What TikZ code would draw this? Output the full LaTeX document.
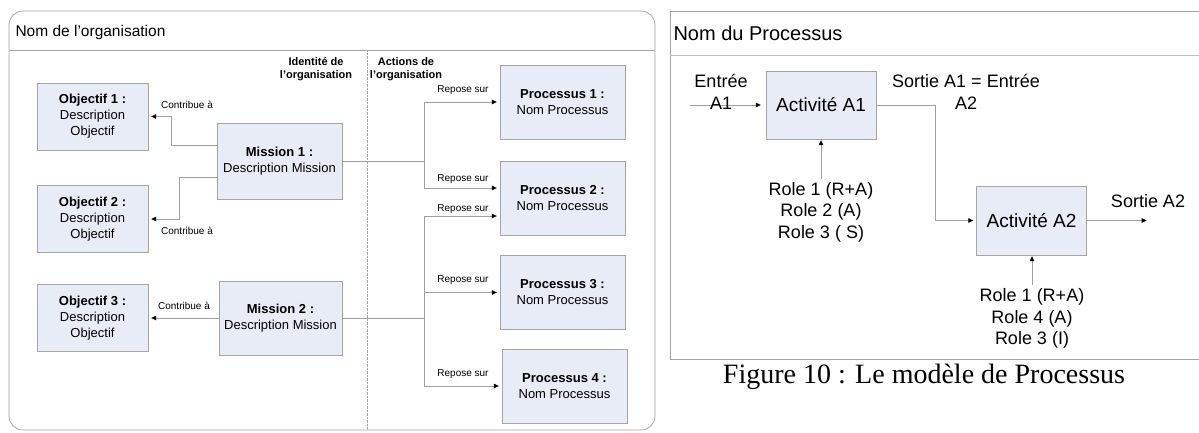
\documentclass[tikz,border=0pt]{standalone}
\usepackage{fontspec}
\setmainfont{Liberation Sans}
\newfontfamily\serifcap{Liberation Serif}
\usetikzlibrary{arrows.meta,positioning}
\definecolor{boxfill}{RGB}{232,236,246}
\definecolor{boxline}{RGB}{165,165,165}
\definecolor{wire}{RGB}{160,160,160}
\tikzset{
  bloc/.style={draw=boxline,fill=boxfill,align=center,minimum width=111pt,minimum height=67pt,inner sep=2pt,font=\fontsize{13}{16}\selectfont},
  activite/.style={draw=boxline,fill=boxfill,minimum width=110pt,minimum height=68pt,font=\fontsize{19}{22}\selectfont},
  lien/.style={draw=wire,line width=0.7pt,-{Triangle[length=5pt,width=4.5pt,color=black]},shorten >=3pt},
  note/.style={font=\fontsize{10}{12}\selectfont},
  texte/.style={align=center,font=\fontsize{18}{21.5}\selectfont},
}

\begin{document}
\begin{tikzpicture}[x=1pt,y=-1pt]
\useasboundingbox (0,0) rectangle (1199,432);
% organisation
\draw[boxline,line width=0.8pt,rounded corners=14pt] (9,11) rectangle (655,430);
\draw[boxline] (9,50) -- (655,50);
\node[anchor=west,font=\fontsize{15.5}{18}\selectfont] (titre_org) at (12,32) {Nom de l’organisation};
\draw[boxline,densely dotted] (367,50) -- (367,430);
\node[align=center,font=\bfseries\fontsize{11}{13}\selectfont] (identite) at (316,69) {Identité de\\l’organisation};
\node[align=center,font=\bfseries\fontsize{11}{13}\selectfont] (actions) at (406,69) {Actions de\\l’organisation};

\node[bloc] (o_1) at (92.5,116.5) {\textbf{Objectif 1 :}\\Description\\Objectif};
\node[bloc] (o_2) at (92.5,219) {\textbf{Objectif 2 :}\\Description\\Objectif};
\node[bloc] (o_3) at (92.5,318) {\textbf{Objectif 3 :}\\Description\\Objectif};
\node[bloc,minimum width=125pt,minimum height=76pt] (m_1) at (279.5,161) {\textbf{Mission 1 :}\\Description Mission};
\node[bloc,minimum width=123pt,minimum height=74pt] (m_2) at (280.5,318) {\textbf{Mission 2 :}\\Description Mission};
\node[bloc,minimum width=125pt,minimum height=74pt] (p_1) at (562.5,102) {\textbf{Processus 1 :}\\Nom Processus};
\node[bloc,minimum width=125pt,minimum height=74pt] (p_2) at (562.5,198) {\textbf{Processus 2 :}\\Nom Processus};
\node[bloc,minimum width=125pt,minimum height=74pt] (p_3) at (562.5,292.5) {\textbf{Processus 3 :}\\Nom Processus};
\node[bloc,minimum width=125pt,minimum height=74pt] (p_4) at (564.5,386) {\textbf{Processus 4 :}\\Nom Processus};

\draw[lien] ([yshift=16pt]m_1.west) -- ++(-45,0) |- (o_1);
\draw[lien] ([yshift=-16pt]m_1.west) -- ++(-37,0) |- (o_2);
\draw[lien] (m_2.west) -- (o_3.east);
\node[note] (c_1) at (187,105) {Contribue à};
\node[note] (c_2) at (187,231) {Contribue à};
\node[note] (c_3) at (184,306) {Contribue à};

\coordinate (f_1) at ([xshift=82pt]m_1.east);
\coordinate (f_2) at ([xshift=82pt]m_2.east);
\draw[wire,line width=0.7pt] (m_1.east) -- (f_1);
\draw[lien] (f_1) |- (p_1);
\draw[lien] (f_1) |- ([yshift=10pt]p_2.west);
\draw[wire,line width=0.7pt] (m_2.east) -- (f_2);
\draw[lien] (f_2) |- ([yshift=-18pt]p_2.west);
\draw[lien] (f_2) |- (p_3);
\draw[lien] (f_2) |- (p_4);
\node[note] (r_1) at (463,90) {Repose sur};
\node[note] (r_2) at (463,179) {Repose sur};
\node[note] (r_3) at (463,209) {Repose sur};
\node[note] (r_4) at (463,280) {Repose sur};
\node[note] (r_5) at (463,374) {Repose sur};

% processus
\draw[boxline,line width=0.8pt] (1199,11) -- (670,11) -- (670,359) -- (1199,359);
\draw[boxline!70] (670,55) -- (1199,55);
\node[anchor=west,font=\fontsize{20}{24}\selectfont] (titre_proc) at (670,33) {Nom du Processus};
\node[activite] (a_1) at (821,105) {Activité A1};
\node[activite,minimum height=69pt] (a_2) at (1031.5,220.5) {Activité A2};

\coordinate (e_1) at (690,105);
\draw[lien,shorten >=5pt] (e_1) -- (a_1);
\node[texte] (l_e1) at (721,92) {Entrée\\A1};
\draw[lien] (a_1.east) -- ++(59,0) |- (a_2);
\node[texte] (l_s1) at (966,92) {Sortie A1 = Entrée\\A2};
\coordinate (s_2) at ([xshift=63pt]a_2.east);
\draw[lien] (a_2.east) -- (s_2);
\node[texte] (l_s2) at (1148,201) {Sortie A2};

\node[texte] (roles_1) at (821,212) {Role 1 (R+A)\\Role 2 (A)\\Role 3 ( S)};
\draw[lien,shorten >=1pt] (roles_1.north) -- (a_1.south);
\node[texte] (roles_2) at (1032,318.5) {Role 1 (R+A)\\Role 4 (A)\\Role 3 (I)};
\draw[lien,shorten >=1pt] (roles_2.north) -- (roles_2.north |- a_2.south);

\node[font=\serifcap\fontsize{28}{32}\selectfont] (legende) at (924,377) {Figure 10 : Le modèle de Processus};
\end{tikzpicture}
\end{document}
